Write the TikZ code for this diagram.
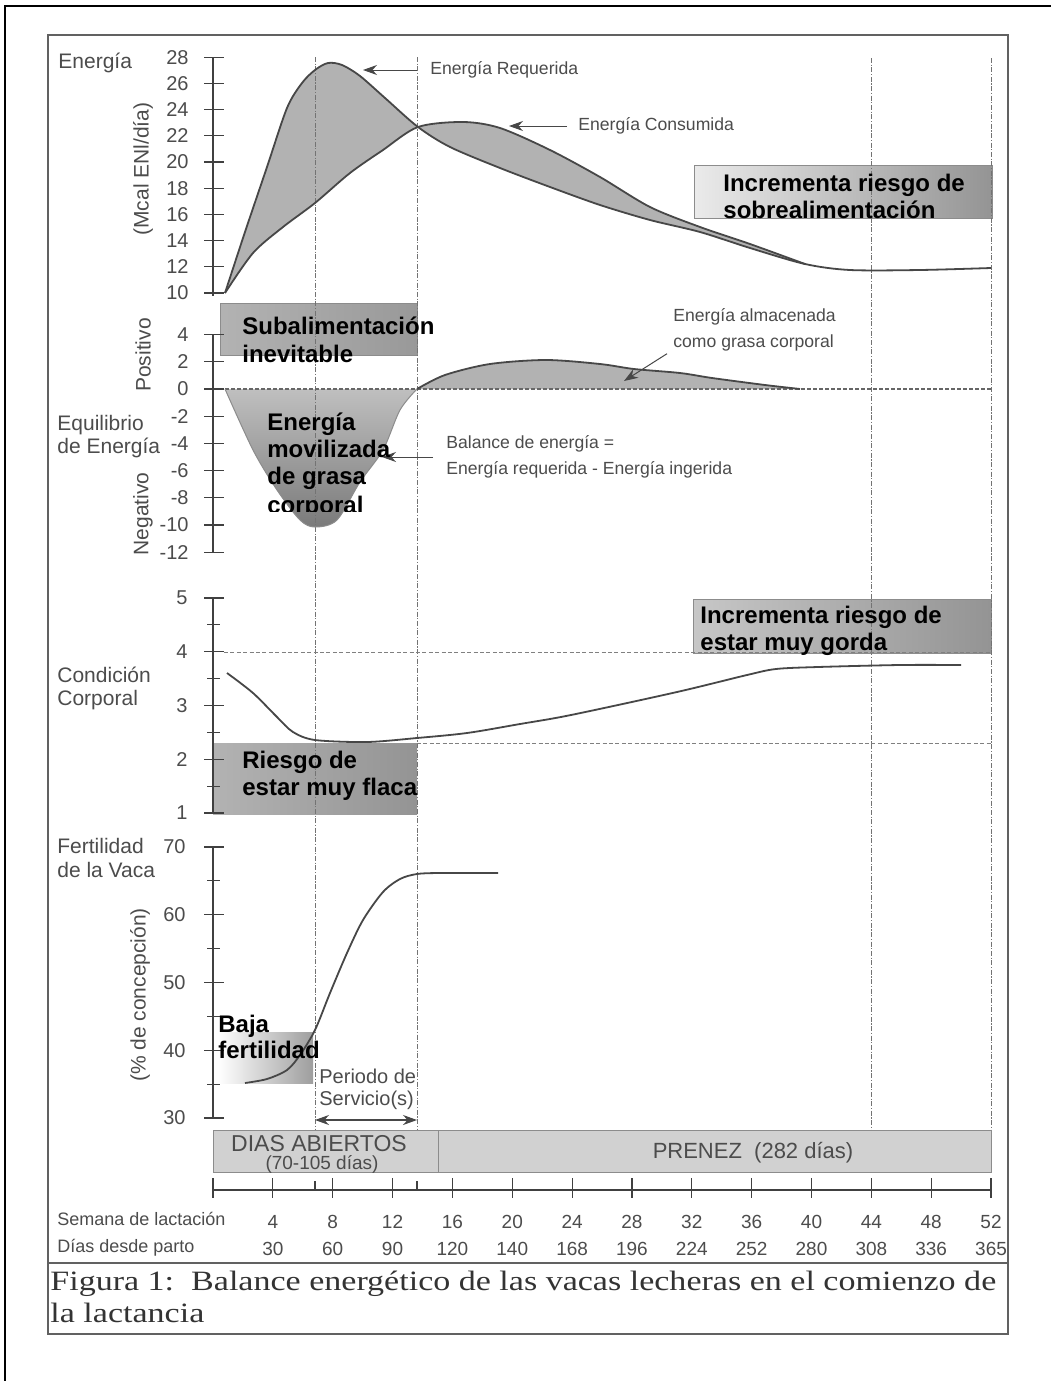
\documentclass[tikz,border=0pt]{standalone}
\usepackage{fontspec}
\setmainfont{Liberation Serif}
\setsansfont{Liberation Sans}
\usetikzlibrary{arrows.meta}
\definecolor{lblc}{gray}{0.30}
\definecolor{crvc}{gray}{0.28}
\begin{document}
\begin{tikzpicture}[x=0.5pt,y=-0.5pt,
  lbl/.style={font=\sffamily\fontsize{10.5}{12}\selectfont, text=lblc, inner sep=0, anchor=base west},
  ann/.style={font=\sffamily\fontsize{8.8}{13}\selectfont, text=lblc, inner sep=0},
  tk/.style={font=\sffamily\fontsize{10}{12}\selectfont, text=lblc, inner sep=0, anchor=east},
  bot/.style={font=\sffamily\fontsize{9.5}{11}\selectfont, text=lblc, inner sep=0, anchor=base},
  boldlbl/.style={font=\sffamily\bfseries\fontsize{12}{13.5}\selectfont, text=black, inner sep=0, anchor=base west},
  crv/.style={draw=crvc, line width=0.9pt},
  vdot/.style={draw=black!55, line width=0.5pt, dash pattern=on 2.5pt off 0.8pt on 0.6pt off 0.8pt},
  hdash/.style={draw=black!50, line width=0.5pt, dash pattern=on 2pt off 1.2pt},
  zdash/.style={draw=black!60, line width=0.8pt, dash pattern=on 2pt off 1pt},
  axisln/.style={draw=black!75, line width=0.6pt},
  arr/.style={draw=crvc, line width=0.5pt, -{Stealth[length=7pt,width=5pt]}},
  boxline/.style={draw=black!45, line width=0.4pt}
]
\useasboundingbox (0,0) rectangle (1051,1381);
\fill[white] (0,0) rectangle (1051,1381);

% frames
\draw[line width=1pt, black] (5,1381) -- (5,6) -- (1051,6);
\draw[line width=1pt, black!62] (48,35) rectangle (1008,1334);
\draw[line width=0.8pt, black!62] (48,1263) -- (1008,1263);

% shaded boxes
\shade[left color=black!8, right color=black!42] (694,165) rectangle (992,218);
\draw[boxline] (694,165) rectangle (992,218);
\shade[left color=black!30, right color=black!40] (220,303) rectangle (417,355);
\draw[boxline] (220,303) rectangle (417,355);
\shade[left color=black!30, right color=black!42] (213,743) rectangle (417,814);
\shade[left color=black!22, right color=black!42] (693,599) rectangle (991,653);
\draw[boxline] (693,599) rectangle (991,653);
\shade[left color=white, right color=black!38] (218,1032) rectangle (313,1083);

% energy band
\fill[black!30] plot[smooth] coordinates {(225,293) (245,232) (267,167) (287,108) (302,83) (315,70) (328,63) (342,65) (360,76) (385,98) (418,127) (450,147) (500,168) (550,187) (600,205) (650,220) (700,232) (750,248) (805,264)}
  -- plot[smooth] coordinates {(805,264) (750,244) (700,227) (650,207) (600,177) (550,150) (500,128) (463,122) (418,127) (383,150) (350,173) (315,203) (283,227) (253,253) (225,293)} -- cycle;

% balance fills
\shade[top color=black!25, bottom color=black!52] plot[smooth] coordinates {(225,389) (253,450) (277,490) (300,520) (315,527) (337,520) (360,482) (383,450) (400,410) (417,389)} -- cycle;
\fill[black!30] plot[smooth] coordinates {(417,389) (445,375) (490,364) (546,360) (600,364) (634,369) (680,373) (712,378) (765,385) (800,389)} -- cycle;

% dotted verticals
\draw[vdot] (315,57) -- (315,1130);
\draw[vdot] (417,57) -- (417,1130);
\draw[vdot] (871,58) -- (871,1130);
\draw[vdot] (991,58) -- (991,1130);

% horizontal dashed lines
\draw[zdash] (213,389) -- (991,389);
\draw[hdash] (224,652) -- (991,652);
\draw[hdash] (417,743) -- (991,743);

% curves
\draw[crv] plot[smooth] coordinates {(225,293) (245,232) (267,167) (287,108) (302,83) (315,70) (328,63) (342,65) (360,76) (385,98) (418,127) (450,147) (500,168) (550,187) (600,205) (650,220) (700,232) (750,248) (805,264) (850,270) (920,270) (991,268)};
\draw[crv] plot[smooth] coordinates {(225,293) (253,253) (283,227) (315,203) (350,173) (383,150) (418,127) (463,122) (500,128) (550,150) (600,177) (650,207) (700,227) (750,244) (805,264)};
\draw[draw=black!45, line width=0.5pt] plot[smooth] coordinates {(225,389) (253,450) (277,490) (300,520) (315,527) (337,520) (360,482) (383,450) (400,410) (417,389)};
\draw[crv] plot[smooth] coordinates {(417,389) (445,375) (490,364) (546,360) (600,364) (634,369) (680,373) (712,378) (765,385) (800,389)};
\draw[crv] plot[smooth] coordinates {(227,673) (253,693) (277,717) (293,732) (315,740) (367,742) (417,738) (467,733) (520,724) (571,715) (677,692) (747,675) (776,669) (818,667) (900,665) (961,665)};
\draw[crv] plot[smooth] coordinates {(245,1083) (267,1079) (287,1070) (300,1055) (315,1030) (330,993) (347,953) (363,920) (383,892) (400,879) (417,874) (440,873) (498,873)};

% axes
\draw[axisln] (213,57) -- (213,296);
\draw[axisln] (213,335) -- (213,553);
\draw[axisln] (213,598) -- (213,813);
\draw[axisln] (213,847) -- (213,1118);
\foreach \v in {10,12,...,28} {
  \draw[axisln] (204,{293-13.1*(\v-10)}) -- (224,{293-13.1*(\v-10)});
  \node[tk] (e\v) at (189,{293-13.1*(\v-10)}) {\v};
}
\foreach \v [count=\i] in {4,2,0,-2,-4,-6,-8,-10,-12} {
  \draw[axisln] (204,{389-13.6*\v}) -- (224,{389-13.6*\v});
  \node[tk] (b\i) at (189,{389-13.6*\v}) {\v};
}
\foreach \v in {1,2,3,4,5} {
  \draw[axisln] (204,{813-53.75*(\v-1)}) -- (224,{813-53.75*(\v-1)});
  \node[tk] (c\v) at (188,{813-53.75*(\v-1)}) {\v};
}
\foreach \v in {1.5,2.5,3.5,4.5} {
  \draw[axisln] (207,{813-53.75*(\v-1)}) -- (220,{813-53.75*(\v-1)});
}
\foreach \v in {30,40,50,60,70} {
  \draw[axisln] (204,{1118-6.775*(\v-30)}) -- (224,{1118-6.775*(\v-30)});
  \node[tk] (f\v) at (186,{1118-6.775*(\v-30)}) {\v};
}
\foreach \v in {35,45,55,65} {
  \draw[axisln] (207,{1118-6.775*(\v-30)}) -- (220,{1118-6.775*(\v-30)});
}

% side labels
\node[lbl] (energia) at (58,68) {Energía};
\node[lbl, rotate=90, anchor=center] (mcal) at (143,169) {(Mcal ENl/día)};
\node[lbl, rotate=90, anchor=center] (posit) at (143,355) {Positivo};
\node[lbl, rotate=90, anchor=center] (negat) at (143,514) {Negativo};
\node[lbl] (equil1) at (57,430) {Equilibrio};
\node[lbl] (equil2) at (57,453) {de Energía};
\node[lbl] (cond1) at (57,682) {Condición};
\node[lbl] (cond2) at (57,705) {Corporal};
\node[lbl] (fert1) at (57,853) {Fertilidad};
\node[lbl] (fert2) at (57,877) {de la Vaca};
\node[lbl, rotate=90, anchor=center] (concep) at (140,995) {(\% de concepción)};

% annotations with arrows
\node[ann, anchor=west] (reqlbl) at (430,70) {Energía Requerida};
\coordinate (reqtip) at (363,70);
\draw[arr, shorten <=6.5pt] (reqlbl) -- (reqtip);
\node[ann, anchor=west] (conlbl) at (578,126) {Energía Consumida};
\coordinate (contip) at (509,126);
\draw[arr, shorten <=5.5pt] (conlbl) -- (contip);
\node[ann, anchor=west, align=left] (ballbl) at (446,457) {Balance de energía =\\Energía requerida - Energía ingerida};
\coordinate (baltip) at (382,457);
\draw[arr, shorten <=6.5pt] (ballbl) -- (baltip);
\node[ann, anchor=west, align=left] (almlbl) at (673,330) {Energía almacenada\\como grasa corporal};
\coordinate (almtip) at (624,381);
\draw[arr] ([xshift=-3pt,yshift=-1pt]almlbl.south west) -- (almtip);

% bold overlays
\node[boldlbl] (sobre1) at (723,191) {Incrementa riesgo de};
\node[boldlbl] (sobre2) at (723,218) {sobrealimentación};
\node[boldlbl] (sub1) at (242,334) {Subalimentación};
\node[boldlbl] (sub2) at (242,362) {inevitable};
\begin{scope}
  \clip (230,380) rectangle (440,511);
  \node[boldlbl] (mov1) at (267,430) {Energía};
  \node[boldlbl] (mov2) at (267,457) {movilizada};
  \node[boldlbl] (mov3) at (267,484) {de grasa};
  \node[boldlbl] (mov4) at (267,513) {corporal};
\end{scope}
\node[boldlbl] (gor1) at (700,623) {Incrementa riesgo de};
\node[boldlbl] (gor2) at (700,650) {estar muy gorda};
\node[boldlbl] (fla1) at (242,768) {Riesgo de};
\node[boldlbl] (fla2) at (242,795) {estar muy flaca};
\node[boldlbl] (baja1) at (218,1032) {Baja};
\node[boldlbl] (baja2) at (218,1058) {fertilidad};

% service period
\node[lbl, font=\sffamily\fontsize{10}{12}\selectfont] (per1) at (319,1083) {Periodo de};
\node[lbl, font=\sffamily\fontsize{10}{12}\selectfont] (per2) at (319,1105) {Servicio(s)};
\coordinate (serL) at (315,1120);
\coordinate (serR) at (417,1120);
\draw[draw=crvc, line width=0.6pt, {Stealth[length=7pt,width=5pt]}-{Stealth[length=7pt,width=5pt]}] (serL) -- (serR);

% timeline boxes
\fill[black!18] (213,1130) rectangle (438,1172);
\draw[boxline] (213,1130) rectangle (438,1172);
\fill[black!18] (438,1130) rectangle (991,1172);
\draw[boxline] (438,1130) rectangle (991,1172);
\node[font=\sffamily\fontsize{11.5}{13}\selectfont, text=lblc, inner sep=0, anchor=base] (dias1) at (319,1151) {DIAS ABIERTOS};
\node[font=\sffamily\fontsize{9.5}{11}\selectfont, text=lblc, inner sep=0, anchor=base] (dias2) at (322,1169) {(70-105 días)};
\node[font=\sffamily\fontsize{11}{13}\selectfont, text=lblc, inner sep=0, anchor=base] (prenez) at (753,1158) {PRENEZ\ \ (282 días)};

% timeline axis
\draw[axisln] (213,1190) -- (991,1190);
\foreach \k in {0,...,13} {
  \draw[axisln] ({213+59.85*\k},1178) -- ({213+59.85*\k},1198);
}
\draw[axisln] (315,1181) -- (315,1190);
\draw[axisln] (417,1181) -- (417,1190);

\node[lbl, font=\sffamily\fontsize{9}{11}\selectfont] (semlbl) at (57,1225) {Semana de lactación};
\node[lbl, font=\sffamily\fontsize{9}{11}\selectfont] (dialbl) at (57,1252) {Días desde parto};
\foreach \w/\d [count=\k] in {4/30,8/60,12/90,16/120,20/140,24/168,28/196,32/224,36/252,40/280,44/308,48/336,52/365} {
  \node[bot] (w\k) at ({213+59.85*\k},1228) {\w};
  \node[bot] (d\k) at ({213+59.85*\k},1255) {\d};
}

% caption
\node[inner sep=0, anchor=base west, font=\fontsize{14}{16}\selectfont, text=black!80] (cap1) at (50,1290) {\scalebox{1.215}[1]{Figura 1:\ \ Balance energético de las vacas lecheras en el comienzo de}};
\node[inner sep=0, anchor=base west, font=\fontsize{14}{16}\selectfont, text=black!80] (cap2) at (50,1322) {\scalebox{1.215}[1]{la lactancia}};
\end{tikzpicture}
\end{document}
